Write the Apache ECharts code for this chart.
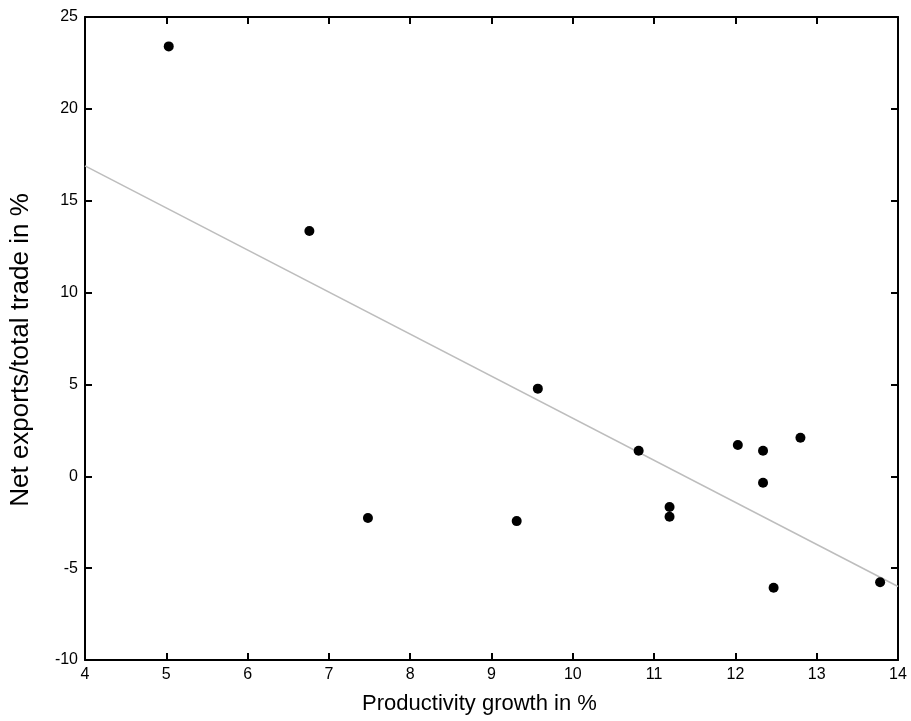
<!DOCTYPE html>
<html>
<head>
<meta charset="utf-8">
<script src="https://cdn.jsdelivr.net/npm/echarts@6/dist/echarts.min.js"></script>
<style>
  html, body { margin: 0; padding: 0; background: #fff; }
  #chart { width: 911px; height: 721px; }
</style>
</head>
<body>
<div id="chart"></div>
<script>
// productivity growth (%) vs net exports / total trade (%)
const productivity = [5.03, 6.76, 7.48, 9.31, 9.57, 10.81, 11.19, 11.19, 12.03, 12.34, 12.34, 12.80, 12.47, 13.78];
const netExports = [23.4, 13.35, -2.27, -2.44, 4.77, 1.39, -1.67, -2.2, 1.70, 1.39, -0.35, 2.10, -6.07, -5.77];

// fitted line end points
const fitX = [4, 14];
const fitY = [16.9, -6.0];

const xTicks = [4, 5, 6, 7, 8, 9, 10, 11, 12, 13, 14];
const yTicks = [-10, -5, 0, 5, 10, 15, 20, 25];

const font = 'Liberation Sans, Arial, sans-serif';
const axisLine = { show: true, onZero: false, lineStyle: { color: '#000', width: 2 } };
const tick = { show: true, inside: true, length: 7, lineStyle: { color: '#000', width: 2 } };

let chart = echarts.init(document.getElementById('chart'));
let option = {
  animation: false,
  grid: { left: 84, right: 13, top: 17, bottom: 61 },
  xAxis: [
    {
      type: 'value', position: 'bottom',
      min: xTicks[0], max: xTicks[xTicks.length - 1], interval: 1,
      name: 'Productivity growth in %', nameLocation: 'middle', nameGap: 33,
      nameTextStyle: { fontFamily: font, fontSize: 22, color: '#000', padding: [0, 24, 0, 0] },
      axisLine: axisLine, axisTick: tick,
      axisLabel: { fontFamily: font, fontSize: 16, color: '#000', margin: 7 },
      splitLine: { show: false }
    },
    {
      type: 'value', position: 'top',
      min: xTicks[0], max: xTicks[xTicks.length - 1], interval: 1,
      axisLine: axisLine, axisTick: tick,
      axisLabel: { show: false }, splitLine: { show: false }
    }
  ],
  yAxis: [
    {
      type: 'value', position: 'left',
      min: yTicks[0], max: yTicks[yTicks.length - 1], interval: 5,
      name: 'Net exports/total trade in %', nameLocation: 'middle', nameGap: 51,
      nameTextStyle: { fontFamily: font, fontSize: 26, color: '#000', padding: [0, 23, 0, 0] },
      axisLine: axisLine, axisTick: tick,
      axisLabel: { fontFamily: font, fontSize: 16, color: '#000', margin: 7 },
      splitLine: { show: false }
    },
    {
      type: 'value', position: 'right',
      min: yTicks[0], max: yTicks[yTicks.length - 1], interval: 5,
      axisLine: axisLine, axisTick: tick,
      axisLabel: { show: false }, splitLine: { show: false }
    }
  ],
  series: [
    {
      type: 'line',
      data: fitX.map((x, i) => [x, fitY[i]]),
      symbol: 'none',
      lineStyle: { color: '#bdbdbd', width: 1.5 },
      z: 1
    },
    {
      type: 'scatter',
      data: productivity.map((x, i) => [x, netExports[i]]),
      symbolSize: 10,
      itemStyle: { color: '#000', opacity: 1 },
      z: 3
    }
  ]
};
chart.setOption(option);
</script>
</body>
</html>
